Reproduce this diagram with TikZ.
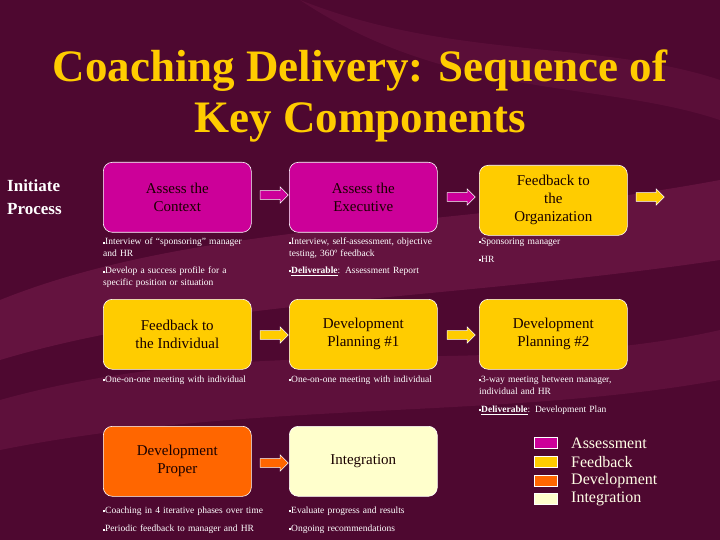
\documentclass[tikz,border=0pt]{standalone}
\usepackage{fontspec}
\setmainfont{Liberation Serif}
\usetikzlibrary{shapes.arrows}
\definecolor{bgc}{HTML}{4E0830}
\definecolor{wave}{HTML}{6E1846}
\definecolor{mag}{HTML}{CC0099}
\definecolor{yel}{HTML}{FFCC00}
\definecolor{ora}{HTML}{FF6600}
\definecolor{cre}{HTML}{FFFFCC}
\definecolor{ttl}{HTML}{FFCC00}
\newcommand{\bul}{\raisebox{0.3ex}{\rule{2pt}{2pt}}}
\hyphenpenalty=10000\relax
\tikzset{
 box/.style={draw=white,line width=0.6pt,rounded corners=9pt,minimum width=148pt,minimum height=70pt,anchor=north west,align=center,font=\fontsize{15}{18}\selectfont,text=black!90!red},
 bl/.style={anchor=north west,text=white,align=left,text width=155pt,font=\fontsize{9.5}{12}\selectfont,inner sep=0pt},
 arr/.style={single arrow,draw=white,line width=0.5pt,minimum height=28pt,minimum width=16pt,single arrow head extend=3pt,inner sep=3.5pt},
 lg/.style={draw=white,line width=0.4pt,minimum width=23pt,minimum height=11pt,inner sep=0pt},
 lt/.style={anchor=west,text=white!90!yellow,font=\fontsize{16}{18}\selectfont,inner sep=0pt}
}
\begin{document}
\begin{tikzpicture}[x=1pt,y=-1pt]
\fill[bgc] (0,0) rectangle (720,540);
\useasboundingbox (0,0) rectangle (720,540);
\fill[wave,opacity=0.7] (0,300) .. controls (200,220) and (450,230) .. (720,180) -- (720,260) .. controls (450,300) and (200,300) .. (0,360) -- cycle;
\fill[wave,opacity=0.5] (0,400) .. controls (250,330) and (500,380) .. (720,330) -- (720,380) .. controls (500,420) and (250,400) .. (0,450) -- cycle;
\fill[wave,opacity=0.4] (300,0) .. controls (450,60) and (600,40) .. (720,80) -- (720,120) .. controls (600,80) and (450,100) .. (300,0) -- cycle;
\node[text=ttl,font=\bfseries\fontsize{45}{51}\selectfont,align=center] (title) at (360,96) {Coaching Delivery: Sequence of\\Key Components};
\node[text=white,font=\bfseries\fontsize{17}{23}\selectfont,align=left,anchor=north west,inner sep=0pt] (init) at (7,180) {Initiate\\Process};
% row 1
\node[box,fill=mag] (ac) at (103,162) {Assess the\\Context};
\node[box,fill=mag] (ae) at (289,162) {Assess the\\Executive};
\node[box,fill=yel] (fo) at (479,165) {Feedback to\\the\\Organization};
\node[arr,fill=mag] (a1) at (272,195) {};
\node[arr,fill=mag] (a2) at (459,197) {};
\node[arr,fill=yel] (a3) at (648,197) {};
\node[bl] (b11) at (103,238) {\bul Interview of ``sponsoring'' manager and HR};
\node[bl] (b12) at (103,267) {\bul Develop a success profile for a specific position or situation};
\node[bl] (b21) at (289,238) {\bul Interview, self-assessment, objective testing, 360º feedback};
\node[bl] (b22) at (289,267) {\bul \underline{\textbf{Deliverable}}: Assessment Report};
\node[bl] (b31) at (479,238) {\bul Sponsoring manager};
\node[bl] (b32) at (479,256) {\bul HR};
% row 2
\node[box,fill=yel] (fi) at (103,299) {Feedback to\\the Individual};
\node[box,fill=yel] (d1) at (289,299) {Development\\Planning \#1};
\node[box,fill=yel] (d2) at (479,299) {Development\\Planning \#2};
\node[arr,fill=yel] (a4) at (272,335) {};
\node[arr,fill=yel] (a5) at (459,335) {};
\node[bl] (c11) at (103,376) {\bul One-on-one meeting with individual};
\node[bl] (c21) at (289,376) {\bul One-on-one meeting with individual};
\node[bl,text width=150pt] (c31) at (479,376) {\bul 3-way meeting between manager, individual and HR};
\node[bl] (c32) at (479,406) {\bul \underline{\textbf{Deliverable}}: Development Plan};
% row 3
\node[box,fill=ora] (dp) at (103,426) {Development\\Proper};
\node[box,fill=cre] (in) at (289,426) {Integration};
\node[arr,fill=ora] (a6) at (272,463) {};
\node[bl,text width=180pt] (e11) at (103,507) {\bul Coaching in 4 iterative phases over time};
\node[bl,text width=180pt] (e12) at (103,525) {\bul Periodic feedback to manager and HR};
\node[bl] (e21) at (289,507) {\bul Evaluate progress and results};
\node[bl] (e22) at (289,525) {\bul Ongoing recommendations};
% legend
\node[lg,fill=mag] (l1) at (546,443) {};
\node[lg,fill=yel] (l2) at (546,462) {};
\node[lg,fill=ora] (l3) at (546,481) {};
\node[lg,fill=cre] (l4) at (546,499) {};
\node[lt] (t1) at (571,443) {Assessment};
\node[lt] (t2) at (571,462) {Feedback};
\node[lt] (t3) at (571,481) {Development};
\node[lt] (t4) at (571,499) {Integration};
\end{tikzpicture}
\end{document}
